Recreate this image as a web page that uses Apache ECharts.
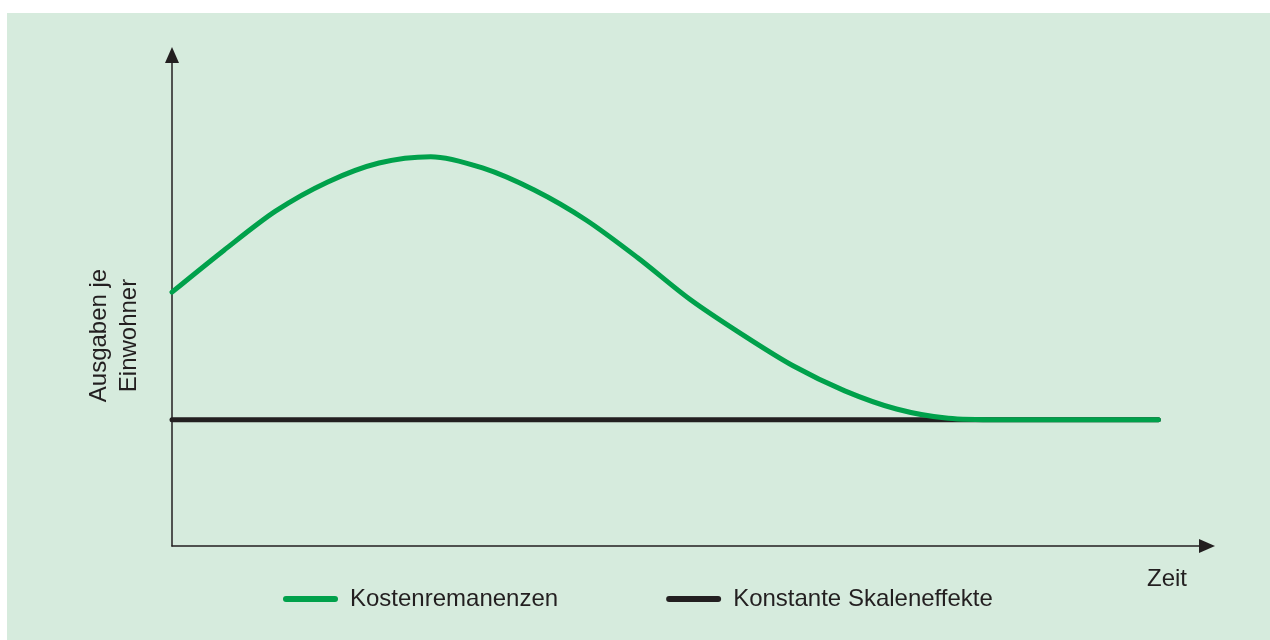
<!DOCTYPE html>
<html>
<head>
<meta charset="utf-8">
<script src="https://cdn.jsdelivr.net/npm/echarts@6/dist/echarts.min.js"></script>
<style>
  html, body { margin: 0; padding: 0; background: #fff; }
  #chart { width: 1270px; height: 640px; }
</style>
</head>
<body>
<div id="chart"></div>
<script>
var zeitKosten = [0, 5, 10, 15, 20, 25, 30, 35, 40, 45, 50, 55, 60, 65, 70, 75, 80, 85, 90, 95.3];
var werteKosten = [51.7, 60.2, 68.2, 74.1, 78.0, 79.3, 77.0, 72.5, 66.4, 58.7, 50.3, 43.2, 36.7, 31.6, 27.9, 26.0, 25.7, 25.7, 25.7, 25.7];
var zeitKonstant = [0, 95.3];
var werteKonstant = [25.7, 25.7];
var serienNamen = ['Kostenremanenzen', 'Konstante Skaleneffekte'];

var schrift = '"Liberation Sans", Arial, sans-serif';
var textFarbe = '#231f20';

function paare(xs, ys) {
    var out = [];
    for (var i = 0; i < xs.length; i++) out.push([xs[i], ys[i]]);
    return out;
}

var chart = echarts.init(document.getElementById('chart'));
chart.setOption({
    backgroundColor: '#ffffff',
    animation: false,
    graphic: [{
        type: 'rect',
        z: -10,
        shape: { x: 7, y: 13, width: 1263, height: 627 },
        style: { fill: '#d6ebdd' }
    }],
    grid: { left: 172, right: 63, top: 55, bottom: 94 },
    legend: {
        left: 278,
        top: 582,
        itemWidth: 55,
        itemHeight: 6,
        itemGap: 108,
        icon: 'path://M3,0 H52 A3,3 0 0 1 52,6 H3 A3,3 0 0 1 3,0 Z',
        textStyle: { fontFamily: schrift, fontSize: 24, color: textFarbe, padding: [0, 0, 0, 7] },
        data: serienNamen
    },
    xAxis: {
        type: 'value',
        min: 0, max: 100,
        name: 'Zeit',
        nameLocation: 'end',
        nameGap: -60,
        nameTextStyle: { fontFamily: schrift, fontSize: 24, color: textFarbe, align: 'left', verticalAlign: 'top', padding: [21, 0, 0, 0] },
        axisLine: { show: true, symbol: ['none', 'triangle'], symbolSize: [14, 16], lineStyle: { color: textFarbe, width: 1.5 } },
        axisTick: { show: false },
        axisLabel: { show: false },
        splitLine: { show: false }
    },
    yAxis: {
        type: 'value',
        min: 0, max: 100,
        name: 'Ausgaben je\nEinwohner',
        nameLocation: 'middle',
        nameGap: 28,
        nameRotate: 90,
        nameTextStyle: { fontFamily: schrift, fontSize: 24, lineHeight: 30, color: textFarbe, padding: [0, 70, 0, 0] },
        axisLine: { show: true, symbol: ['none', 'triangle'], symbolSize: [14, 16], lineStyle: { color: textFarbe, width: 1.5 } },
        axisTick: { show: false },
        axisLabel: { show: false },
        splitLine: { show: false }
    },
    series: [
        {
            name: serienNamen[0],
            type: 'line',
            z: 3,
            smooth: 0.3,
            symbol: 'none',
            data: paare(zeitKosten, werteKosten),
            itemStyle: { color: '#00a14b' },
            lineStyle: { color: '#00a14b', width: 5, cap: 'round' }
        },
        {
            name: serienNamen[1],
            type: 'line',
            z: 2,
            symbol: 'none',
            data: paare(zeitKonstant, werteKonstant),
            itemStyle: { color: textFarbe },
            lineStyle: { color: textFarbe, width: 5, cap: 'round' }
        }
    ]
});
</script>
</body>
</html>
